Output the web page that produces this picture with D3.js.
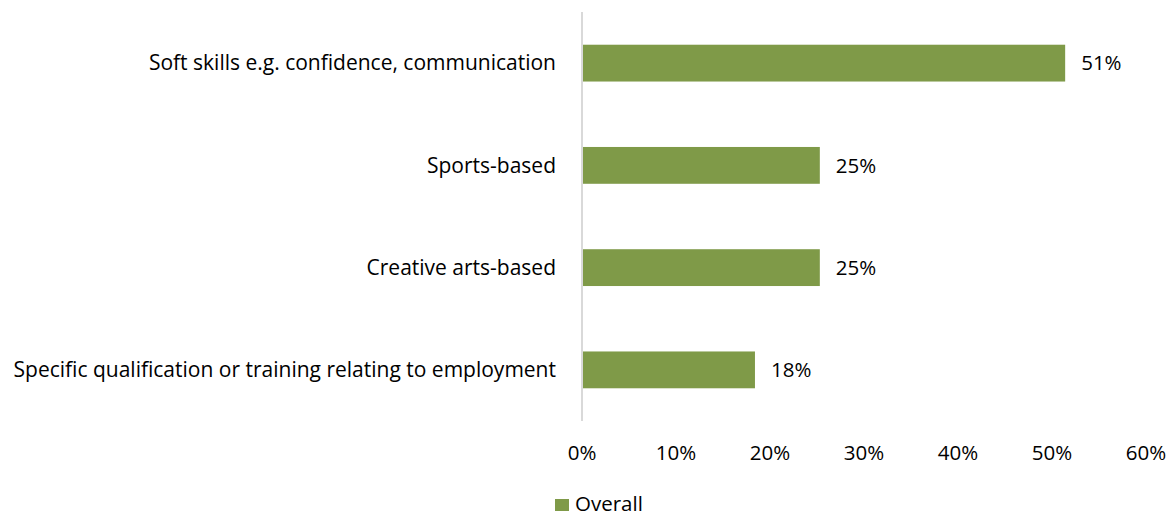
<!DOCTYPE html>
<html>
<head>
<meta charset="utf-8">
<script src="https://cdn.jsdelivr.net/npm/d3@7"></script>
<style>
body { margin: 0; background: #fff; }
text { font-family: "Open Sans", sans-serif; fill: #000; font-size: 20.5px; }
text.cat { font-size: 21px; }
</style>
</head>
<body>
<svg id="chart" width="1175" height="515"></svg>
<script>
// data
var categories = [
  "Soft skills e.g. confidence, communication",
  "Sports-based",
  "Creative arts-based",
  "Specific qualification or training relating to employment"
];
var overall = [51.4, 25.3, 25.3, 18.4];
var valueLabels = ["51%", "25%", "25%", "18%"];
var ticks = [0, 10, 20, 30, 40, 50, 60];
var seriesName = "Overall";

var svg = d3.select("#chart");
var plotLeft = 582, plotRight = 1146, plotTop = 12, plotBottom = 421;

var x = d3.scaleLinear().domain([0, 60]).range([plotLeft, plotRight]);
var y = d3.scaleBand().domain(categories).range([plotTop, plotBottom]).paddingInner(0.64).paddingOuter(0.32);

var green = "#7f9a48";

svg.selectAll("rect.bar")
  .data(categories)
  .enter().append("rect")
    .attr("class", "bar")
    .attr("x", x(0))
    .attr("y", function(d) { return y(d); })
    .attr("width", function(d, i) { return x(overall[i]) - x(0); })
    .attr("height", y.bandwidth())
    .attr("fill", green);

// vertical axis line
svg.append("line")
  .attr("x1", plotLeft).attr("x2", plotLeft)
  .attr("y1", plotTop).attr("y2", plotBottom)
  .attr("stroke", "#d9d9d9").attr("stroke-width", 2);

// category labels
svg.selectAll("text.cat")
  .data(categories)
  .enter().append("text")
    .attr("class", "cat")
    .attr("x", 556)
    .attr("y", function(d) { return y(d) + y.bandwidth() / 2; })
    .attr("dy", "0.35em")
    .attr("text-anchor", "end")
    .text(function(d) { return d; });

// value labels
svg.selectAll("text.val")
  .data(categories)
  .enter().append("text")
    .attr("class", "val")
    .attr("x", function(d, i) { return x(overall[i]) + 16; })
    .attr("y", function(d) { return y(d) + y.bandwidth() / 2; })
    .attr("dy", "0.35em")
    .text(function(d, i) { return valueLabels[i]; });

// x tick labels
svg.selectAll("text.tick")
  .data(ticks)
  .enter().append("text")
    .attr("class", "tick")
    .attr("x", function(d) { return x(d); })
    .attr("y", 453)
    .attr("dy", "0.35em")
    .attr("text-anchor", "middle")
    .text(function(d) { return d + "%"; });

// legend
svg.append("rect")
  .attr("x", 555).attr("y", 499).attr("width", 14).attr("height", 12)
  .attr("fill", green);
svg.append("text")
  .attr("x", 575).attr("y", 504)
  .attr("dy", "0.35em")
  .text(seriesName);
</script>
</body>
</html>
